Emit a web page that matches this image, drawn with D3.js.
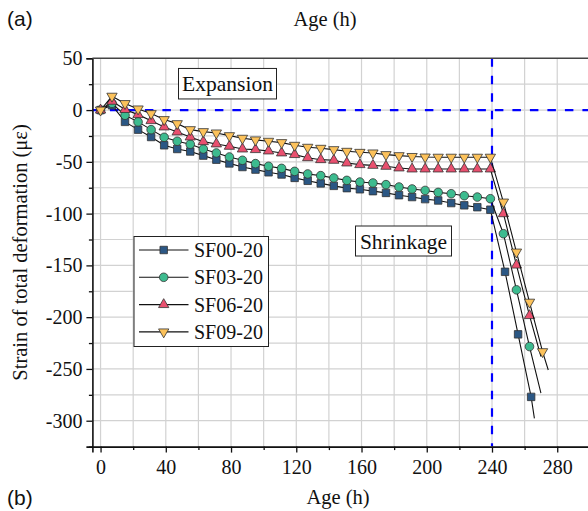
<!DOCTYPE html>
<html>
<head>
<meta charset="utf-8">
<script src="https://cdn.jsdelivr.net/npm/d3@7"></script>
<style>
  html, body { margin: 0; padding: 0; background: #fff; }
  svg { display: block; }
</style>
</head>
<body>
<svg id="chart" width="588" height="511"></svg>
<script>
// ---------------- data ----------------
const flatAges = [0, 7, 15, 23, 31, 39, 47, 55, 63, 71, 79, 87, 95, 103, 111, 119, 127, 135, 143, 151, 159, 167, 175, 183, 191, 199, 207, 215, 223, 231, 239];

const seriesNames = ["SF00-20", "SF03-20", "SF06-20", "SF09-20"];

const sf00Ages = flatAges.concat([248, 256, 264, 266]);
const sf00Values = [0, 4.7, -11.4, -18.9, -26, -34, -37.6, -40, -44, -47.9, -51.5, -55, -57.5, -60.1, -62.2, -65.5, -68.3, -70.8, -73.2, -75.4, -76.5, -78.3, -80, -82.2, -84, -86, -87.3, -89.8, -92, -93.8, -96.2,
  -156.2, -216.6, -277, -297.7];

const sf03Ages = flatAges.concat([247, 255, 263, 270]);
const sf03Values = [0, 6.5, -5, -11.4, -18.9, -26.3, -30.1, -33, -37.6, -41.4, -45.3, -48.5, -51.7, -54.3, -56.3, -59.2, -61.7, -63.3, -65.6, -67.9, -69.5, -70.4, -72, -74.3, -76.2, -77.6, -79.5, -80.8, -82.7, -84, -85.6,
  -119.4, -173.6, -228.4, -273.4];

const sf06Ages = flatAges.concat([247, 255, 263, 270]);
const sf06Values = [0, 8.5, 0.5, -4.4, -10.2, -16.3, -21.1, -26, -30.5, -32.7, -35, -37.6, -38.2, -39.5, -41.4, -43, -46, -47.9, -48.5, -51.1, -52.7, -53.4, -54.3, -55.9, -56.9, -56.9, -56.9, -56.9, -56.9, -56.9, -56.9,
  -100.1, -149.7, -198.5, -238];

const sf09Ages = flatAges.concat([247, 255, 263, 271, 274.5]);
const sf09Values = [0, 13.4, 6.3, 1.1, -3.4, -9.2, -13.1, -18.9, -20.8, -22.1, -24.7, -27.2, -28.8, -30.1, -31.4, -34, -35.9, -36.9, -38.2, -39.8, -40.8, -41.4, -43, -44, -44.8, -45.3, -45.5, -45.5, -45.5, -45.5, -45.5,
  -88.8, -137.1, -185.5, -233.3, -251];

const xTicks = [0, 40, 80, 120, 160, 200, 240, 280];
const xMinorTicks = [20, 60, 100, 140, 180, 220, 260, 300];
const yTicks = [50, 0, -50, -100, -150, -200, -250, -300];
const yMinorTicks = [25, -25, -75, -125, -175, -225, -275, -325];
const refAge = 240;   // vertical dashed reference
const refStrain = 0;  // horizontal dashed reference

// ---------------- styles ----------------
const colors = ["#2b5784", "#3dbb8f", "#e9506f", "#fcc25b"];
const shapes = [d3.symbolSquare, d3.symbolCircle, d3.symbolTriangle, d3.symbolTriangle];
const sizes = [56, 58, 46, 46];
const rotations = [0, 0, 0, 180];
const SERIF = "'Liberation Serif', 'Times New Roman', Times, serif";
const SANS = "'Liberation Sans', Arial, Helvetica, sans-serif";

const svg = d3.select("#chart");
const plot = { left: 92.4, top: 58.3, bottom: 446.6 };

const x = d3.scaleLinear().domain([-5, 300]).range([plot.left, plot.left + 305 * 1.631]);
const y = d3.scaleLinear().domain([-325, 50]).range([plot.bottom, plot.top]);

const defs = svg.append("defs");
defs.append("clipPath").attr("id", "clip")
  .append("rect").attr("x", plot.left).attr("y", plot.top)
  .attr("width", x(300) - plot.left).attr("height", plot.bottom - plot.top);

// grid
const gGrid = svg.append("g").attr("clip-path", "url(#clip)");
gGrid.selectAll("line.gx").data(d3.range(0, 301, 20)).join("line")
  .attr("x1", d => x(d)).attr("x2", d => x(d))
  .attr("y1", plot.top).attr("y2", plot.bottom)
  .attr("stroke", "#d2d2d2").attr("stroke-width", 1.2);
gGrid.selectAll("line.gy").data(d3.range(-325, 51, 25)).join("line")
  .attr("y1", d => y(d)).attr("y2", d => y(d))
  .attr("x1", plot.left).attr("x2", x(300))
  .attr("stroke", "#d2d2d2").attr("stroke-width", 1.2);

// reference dashed lines
gGrid.append("line")
  .attr("x1", plot.left).attr("x2", x(300))
  .attr("y1", y(refStrain)).attr("y2", y(refStrain))
  .attr("stroke", "#0000ff").attr("stroke-width", 2.2).attr("stroke-dasharray", "8.5,9");
gGrid.append("line")
  .attr("x1", x(refAge)).attr("x2", x(refAge))
  .attr("y1", plot.top).attr("y2", plot.bottom)
  .attr("stroke", "#0000ff").attr("stroke-width", 2.2).attr("stroke-dasharray", "8.5,9");

// text boxes
function boxLabel(cx, cy, w, h, text) {
  svg.append("rect").attr("x", cx - w / 2).attr("y", cy - h / 2).attr("width", w).attr("height", h)
    .attr("fill", "#fff").attr("stroke", "#222").attr("stroke-width", 1);
  svg.append("text").attr("x", cx).attr("y", cy + 7.5).attr("text-anchor", "middle")
    .style("font-family", SERIF).style("font-size", "21.5px").attr("fill", "#111").text(text);
}
boxLabel(227.5, 83.7, 98, 30.5, "Expansion");
boxLabel(403.5, 241, 96, 30, "Shrinkage");

// series
const allSeries = [
  { name: seriesNames[0], ages: sf00Ages, values: sf00Values },
  { name: seriesNames[1], ages: sf03Ages, values: sf03Values },
  { name: seriesNames[2], ages: sf06Ages, values: sf06Values },
  { name: seriesNames[3], ages: sf09Ages, values: sf09Values }
];

const line = d3.line().x(d => x(d[0])).y(d => y(d[1]));
const gData = svg.append("g").attr("clip-path", "url(#clip)");
allSeries.forEach((s, i) => {
  const pts = s.ages.map((a, j) => [a, s.values[j]]);
  const g = gData.append("g");
  g.append("path").attr("d", line(pts)).attr("fill", "none")
    .attr("stroke", "#111").attr("stroke-width", 1.1);
  // the final reading of each series is shown as line end only
  g.selectAll("path.m").data(pts.slice(0, pts.length - 1)).join("path")
    .attr("d", d3.symbol().type(shapes[i]).size(sizes[i]))
    .attr("transform", d => `translate(${x(d[0])},${y(d[1])}) rotate(${rotations[i]})`)
    .attr("fill", colors[i]).attr("stroke", "#333").attr("stroke-width", 0.8);
});

// axes
const axisColor = "#111";
function styleAxis(g, withText) {
  g.attr("font-family", SERIF).attr("font-size", 20);
  g.select(".domain").attr("stroke", axisColor).attr("stroke-width", 1.6);
  g.selectAll(".tick line").attr("stroke", axisColor).attr("stroke-width", 1.3);
  if (withText) g.selectAll(".tick text")
    .style("font-family", SERIF).style("font-size", "20px").attr("fill", "#111");
}
const gy = svg.append("g").attr("transform", `translate(${plot.left},0)`)
  .call(d3.axisLeft(y).tickValues(yTicks).tickSize(6).tickPadding(4)
    .tickFormat(d => d < 0 ? "-" + Math.abs(d) : d));
styleAxis(gy, true);
const gym = svg.append("g").attr("transform", `translate(${plot.left},0)`)
  .call(d3.axisLeft(y).tickValues(yMinorTicks).tickSize(3.5).tickFormat(""));
gym.select(".domain").remove();
styleAxis(gym, false);

const gx = svg.append("g").attr("transform", `translate(0,${plot.bottom})`)
  .call(d3.axisBottom(x).tickValues(xTicks).tickSize(6).tickPadding(7));
styleAxis(gx, true);
const gxm = svg.append("g").attr("transform", `translate(0,${plot.bottom})`)
  .call(d3.axisBottom(x).tickValues(xMinorTicks).tickSize(3.5).tickFormat(""));
gxm.select(".domain").remove();
styleAxis(gxm, false);

// top border
svg.append("line").attr("x1", plot.left).attr("x2", x(300))
  .attr("y1", plot.top).attr("y2", plot.top)
  .attr("stroke", "#444").attr("stroke-width", 1.6);

// legend
const lg = svg.append("g");
lg.append("rect").attr("x", 134).attr("y", 236.5).attr("width", 134.5).attr("height", 110)
  .attr("fill", "#fff").attr("stroke", "#222").attr("stroke-width", 1);
allSeries.forEach((s, i) => {
  const ly = 250 + i * 27.3;
  lg.append("line").attr("x1", 139).attr("x2", 188.5).attr("y1", ly).attr("y2", ly)
    .attr("stroke", "#111").attr("stroke-width", 1.1);
  lg.append("path").attr("d", d3.symbol().type(shapes[i]).size(sizes[i]))
    .attr("transform", `translate(163.7,${ly}) rotate(${rotations[i]})`)
    .attr("fill", colors[i]).attr("stroke", "#333").attr("stroke-width", 0.8);
  lg.append("text").attr("x", 194).attr("y", ly + 7)
    .style("font-family", SERIF).style("font-size", "20px").attr("fill", "#111").text(s.name);
});

// titles
svg.append("text").attr("x", 325).attr("y", 26).attr("text-anchor", "middle")
  .style("font-family", SERIF).style("font-size", "20.5px").attr("fill", "#111").text("Age (h)");
svg.append("text").attr("x", 338).attr("y", 504).attr("text-anchor", "middle")
  .style("font-family", SERIF).style("font-size", "20.5px").attr("fill", "#111").text("Age (h)");
svg.append("text")
  .attr("transform", `translate(27,${(plot.top + plot.bottom) / 2}) rotate(-90)`)
  .attr("text-anchor", "middle").style("font-family", SERIF).style("font-size", "20.5px").attr("fill", "#111")
  .text("Strain of total deformation (με)");
svg.append("text").attr("x", 7).attr("y", 26)
  .style("font-family", SANS).style("font-size", "21px").attr("fill", "#111").text("(a)");
svg.append("text").attr("x", 7).attr("y", 505)
  .style("font-family", SANS).style("font-size", "21px").attr("fill", "#111").text("(b)");
</script>
</body>
</html>
